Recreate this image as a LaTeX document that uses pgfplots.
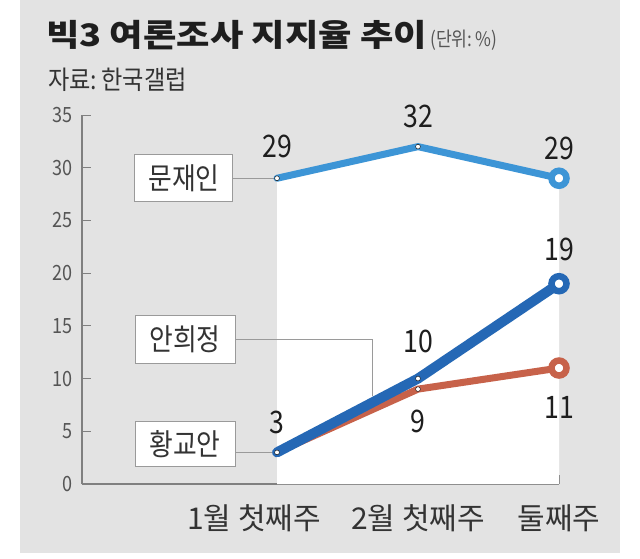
\documentclass[border=0pt]{standalone}
\usepackage{fontspec}
\usepackage{pgfplots}
\pgfplotsset{compat=1.18}
\setmainfont{Noto Sans CJK KR}
\newfontfamily\kr{Noto Sans CJK KR}
\newfontfamily\krc[FakeStretch=0.86]{Noto Sans CJK KR}
\newfontfamily\krs[FakeStretch=0.89]{Noto Sans CJK KR}
\newfontfamily\krw[FakeStretch=1.17]{Noto Sans CJK KR}
\definecolor{bg}{HTML}{E3E3E3}
\definecolor{mj}{HTML}{3D95D6}
\definecolor{ahj}{HTML}{2568B5}
\definecolor{hka}{HTML}{C7624A}
\definecolor{axgray}{HTML}{808080}
\definecolor{boxgray}{HTML}{9A9A9A}
\definecolor{titlec}{HTML}{1E1E1E}
\definecolor{labc}{HTML}{333333}
\definecolor{tickc}{HTML}{555555}
\begin{document}
\begin{tikzpicture}[x=1pt,y=1pt]
\useasboundingbox (0,0) rectangle (640,558);
\fill[white] (0,0) rectangle (640,558);
\fill[bg] (20,5) rectangle (620,558);
\node[anchor=base west, inner sep=0pt, text=titlec] at (46,511) {\krw\fontsize{31}{31}\selectfont\bfseries 빅3 여론조사 지지율 추이};
\node[anchor=base west, inner sep=0pt, text=tickc] at (430,511) {\krc\fontsize{20}{20}\selectfont (단위:\,\%)};
\node[anchor=base west, inner sep=0pt, text=labc] at (48,468) {\krs\fontsize{26}{26}\selectfont 자료:\,한국갤럽};
\begin{axis}[
  at={(82pt,74pt)}, anchor=south west,
  scale only axis, width=477pt, height=369pt,
  xmin=-1.383, xmax=2, ymin=0, ymax=35,
  axis x line=bottom, axis y line=left,
  axis line style={-},
  x axis line style={line width=1.8pt, color=axgray},
  y axis line style={line width=1.2pt, color=axgray},
  xtick={0,1,2},
  xticklabels={{1월 첫째주\hspace*{46pt}}, {2월 첫째주}, {둘째주}},
  ytick={0,5,...,35},
  tick align=inside,
  major tick length=9pt,
  tick style={color=axgray, line width=1pt},
  xticklabel style={font=\kr\fontsize{30}{30}\selectfont, text=labc, anchor=north, inner sep=0pt, yshift=-20pt},
  yticklabel style={font=\krc\fontsize{21}{21}\selectfont, text=tickc, anchor=east, inner sep=0pt, xshift=-9pt},
  /pgf/number format/assume math mode=true,
  clip=false,
]
% white area under the top series
\addplot[fill=white, draw=none] coordinates {(0,29) (1,32) (2,29)} \closedcycle;
% connectors
\draw[boxgray, line width=1pt] (axis cs:-0.31,29) -- (axis cs:0,29);
\draw[boxgray, line width=1pt] (axis cs:-0.30,13.75) -- (axis cs:0.674,13.75) -- (axis cs:0.674,8.3);
\draw[boxgray, line width=1pt] (axis cs:-0.30,3) -- (axis cs:0,3);
% series
\addplot[hka, line width=7pt, line cap=round, line join=round] coordinates {(0,3) (1,9) (2,11)};
\addplot[ahj, line width=10pt, line cap=round, line join=round] coordinates {(0,3) (1,10) (2,19)};
\addplot[mj, line width=7pt, line cap=round, line join=round] coordinates {(0,29) (1,32) (2,29)};
% markers
\addplot[only marks, mark=*, mark size=2.4pt, mark options={fill=white, draw=none}] coordinates {(0,29) (1,32) (0,3) (1,10) (1,9)};
\addplot[only marks, mark=*, mark size=7.5pt, mark options={fill=white, draw=mj, line width=6.5pt}] coordinates {(2,29)};
\addplot[only marks, mark=*, mark size=7.5pt, mark options={fill=white, draw=ahj, line width=6.5pt}] coordinates {(2,19)};
\addplot[only marks, mark=*, mark size=7.5pt, mark options={fill=white, draw=hka, line width=6.5pt}] coordinates {(2,11)};
% boxes
\node[draw=boxgray, line width=1pt, fill=white, minimum width=98pt, minimum height=47pt, inner sep=0pt, text=labc, font=\krc\fontsize{30}{30}\selectfont] at (axis cs:-0.66,28.98) {문재인};
\node[draw=boxgray, line width=1pt, fill=white, minimum width=100pt, minimum height=48pt, inner sep=0pt, text=labc, font=\krc\fontsize{30}{30}\selectfont] at (axis cs:-0.652,13.75) {안희정};
\node[draw=boxgray, line width=1pt, fill=white, minimum width=100pt, minimum height=45pt, inner sep=0pt, text=labc, font=\krc\fontsize{30}{30}\selectfont] at (axis cs:-0.652,3.75) {황교안};
% value labels
\begin{scope}[every node/.style={inner sep=0pt, text=titlec, font=\krc\fontsize{31}{31}\selectfont}]
\node at (axis cs:0,29) [yshift=32pt] {29};
\node at (axis cs:1,32) [yshift=30pt] {32};
\node at (axis cs:2,29) [yshift=30pt] {29};
\node at (axis cs:2,19) [yshift=34pt] {19};
\node at (axis cs:1,10) [yshift=37pt] {10};
\node at (axis cs:0,3) [yshift=30pt] {3};
\node at (axis cs:1,9) [yshift=-32pt] {9};
\node at (axis cs:2,11) [yshift=-39pt] {11};
\end{scope}
\end{axis}
\end{tikzpicture}
\end{document}
